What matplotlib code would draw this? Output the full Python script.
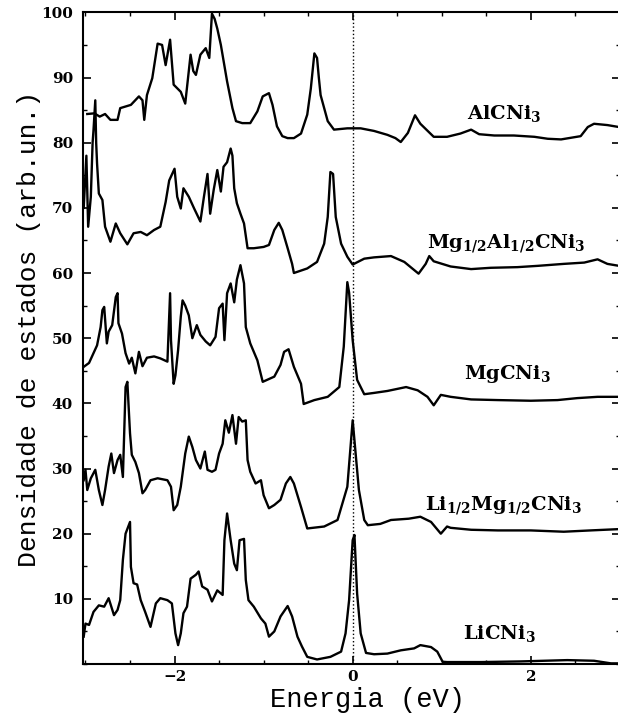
import numpy as np
import matplotlib
matplotlib.use("Agg")
from matplotlib import pyplot as plt
from matplotlib.ticker import MultipleLocator, FixedLocator

# Density of states curves, each curve given as (energy [eV], DOS) points
al_E = [-2.98, -2.90, -2.84, -2.78, -2.72, -2.64, -2.61, -2.49, -2.40, -2.36, -2.34, -2.31, -2.25,
        -2.19, -2.14, -2.10, -2.05, -2.01, -1.93, -1.88, -1.82, -1.79, -1.76, -1.71, -1.65, -1.61,
        -1.58, -1.55, -1.52, -1.48, -1.41, -1.35, -1.31, -1.24, -1.15, -1.07, -1.01, -0.94, -0.90,
        -0.85, -0.79, -0.73, -0.66, -0.58, -0.51, -0.47, -0.43, -0.40, -0.38, -0.36, -0.28, -0.21,
        -0.06, 0.09, 0.24, 0.39, 0.48, 0.54, 0.62, 0.70, 0.76, 0.91, 1.06, 1.21, 1.33, 1.42, 1.59,
        1.81, 2.04, 2.19, 2.34, 2.56, 2.64, 2.71, 2.86, 2.99]
al_D = [84.4, 84.5, 84.0, 84.4, 83.5, 83.5, 85.3, 85.8, 87.1, 86.5, 83.5, 87.3, 89.9,
        95.2, 95.0, 91.9, 95.8, 88.9, 87.8, 86.0, 93.5, 91.0, 90.4, 93.5, 94.5, 93.0,
        99.8, 99.0, 97.5, 95.0, 89.4, 85.3, 83.3, 83.0, 83.0, 84.8, 87.1, 87.6, 85.8,
        82.5, 81.0, 80.7, 80.7, 81.4, 84.3, 88.3, 93.7, 93.0, 90.0, 87.3, 83.3, 82.0,
        82.2, 82.2, 81.8, 81.2, 80.7, 80.1, 81.5, 84.2, 82.9, 80.9, 80.9, 81.4, 82.0, 81.3, 81.1,
        81.1, 80.9, 80.6, 80.5, 81.0, 82.4, 82.9, 82.7, 82.4]

mgal_E = [-3.02, -2.99, -2.97, -2.94, -2.92, -2.91, -2.89, -2.88, -2.87, -2.85, -2.81, -2.78,
          -2.72, -2.66, -2.61, -2.53, -2.46, -2.38, -2.31, -2.23, -2.16, -2.10, -2.06, -2.00,
          -1.97, -1.93, -1.90, -1.84, -1.78, -1.71, -1.67, -1.63, -1.60, -1.56, -1.52, -1.48,
          -1.45, -1.41, -1.37, -1.35, -1.33, -1.30, -1.26, -1.22, -1.18, -1.11, -1.00, -0.94,
          -0.88, -0.83, -0.79, -0.73, -0.68, -0.66, -0.51, -0.40, -0.32, -0.28, -0.25, -0.22,
          -0.19, -0.13, -0.06, 0.00, 0.13, 0.24, 0.43, 0.58, 0.74, 0.82, 0.86, 0.91, 1.10, 1.33,
          1.55, 1.85, 2.08, 2.37, 2.60, 2.75, 2.86, 2.99]
mgal_D = [70.0, 78.0, 67.1, 71.7, 80.0, 81.9, 86.5, 80.0, 76.8, 72.2, 71.2, 67.1,
          64.8, 67.6, 66.1, 64.4, 66.1, 66.3, 65.8, 66.6, 67.1, 70.9, 74.2, 76.0,
          71.7, 69.9, 73.0, 71.7, 69.9, 67.9, 71.7, 75.2, 69.1, 72.8, 75.8, 72.5,
          76.3, 77.0, 79.1, 78.0, 73.0, 70.7, 69.1, 67.6, 63.8, 63.8, 64.0, 64.3,
          66.6, 67.7, 66.6, 63.8, 61.4, 60.0, 60.7, 61.7, 64.5, 68.6, 75.5, 75.2,
          68.6, 64.5, 62.5, 61.3, 62.2, 62.4, 62.6, 61.7, 59.9, 61.4, 62.6, 61.8, 61.0, 60.6,
          60.8, 60.9, 61.1, 61.4, 61.6, 62.1, 61.4, 61.1]

mg_E = [-3.02, -2.96, -2.91, -2.87, -2.83, -2.81, -2.79, -2.76, -2.74, -2.70, -2.66, -2.64,
        -2.63, -2.59, -2.55, -2.51, -2.48, -2.44, -2.40, -2.36, -2.31, -2.23, -2.16, -2.08,
        -2.05, -2.04, -2.01, -1.99, -1.96, -1.93, -1.91, -1.88, -1.84, -1.80, -1.75, -1.71,
        -1.65, -1.60, -1.54, -1.50, -1.46, -1.44, -1.41, -1.37, -1.33, -1.30, -1.26, -1.22,
        -1.20, -1.15, -1.07, -1.01, -0.88, -0.81, -0.77, -0.72, -0.66, -0.58, -0.55, -0.43,
        -0.28, -0.15, -0.10, -0.06, -0.04, 0.00, 0.05, 0.13, 0.24, 0.39, 0.60, 0.73, 0.84,
        0.91, 0.99, 1.10, 1.33, 1.63, 2.00, 2.30, 2.52, 2.75, 2.99]
mg_D = [45.6, 46.2, 47.7, 48.9, 51.7, 54.3, 54.8, 49.2, 51.0, 52.0, 56.3, 56.9,
        52.3, 50.7, 47.7, 46.1, 47.0, 44.6, 47.9, 45.7, 47.0, 47.2, 46.9, 46.4,
        56.9, 49.7, 43.0, 44.3, 48.2, 53.3, 55.8, 55.0, 53.5, 50.0, 52.0, 50.5,
        49.5, 48.9, 50.2, 54.6, 55.3, 49.7, 56.9, 58.4, 55.5, 59.0, 61.2, 58.4,
        51.7, 49.2, 46.6, 43.3, 44.1, 45.9, 47.9, 48.3, 45.6, 43.0, 39.9, 40.5,
        41.0, 42.5, 48.7, 58.6, 57.0, 49.7, 43.6, 41.4, 41.6, 41.9, 42.5, 42.0, 41.0,
        39.7, 41.3, 41.0, 40.6, 40.5, 40.4, 40.5, 40.8, 41.0, 41.0]

limg_E = [-3.02, -3.00, -2.98, -2.94, -2.89, -2.85, -2.81, -2.78, -2.74, -2.71, -2.68, -2.64,
          -2.61, -2.58, -2.55, -2.53, -2.50, -2.48, -2.44, -2.40, -2.36, -2.33, -2.27, -2.19,
          -2.08, -2.04, -2.01, -1.97, -1.93, -1.88, -1.84, -1.80, -1.76, -1.71, -1.66, -1.63,
          -1.58, -1.54, -1.50, -1.46, -1.43, -1.39, -1.35, -1.31, -1.28, -1.24, -1.20, -1.18,
          -1.15, -1.09, -1.03, -1.00, -0.94, -0.88, -0.81, -0.75, -0.70, -0.66, -0.58, -0.51,
          -0.32, -0.17, -0.06, 0.00, 0.03, 0.07, 0.13, 0.17, 0.31, 0.43, 0.63, 0.76, 0.88, 0.99,
          1.06, 1.10, 1.33, 1.63, 2.00, 2.37, 2.67, 2.99]
limg_D = [28.2, 29.8, 26.7, 28.5, 29.8, 26.7, 24.4, 26.7, 30.3, 32.3, 29.3, 31.3,
          32.1, 28.7, 42.5, 43.3, 35.4, 32.1, 31.0, 29.3, 26.2, 26.7, 28.2, 28.5,
          28.2, 27.2, 23.6, 24.4, 27.2, 32.3, 34.9, 33.3, 31.3, 30.0, 32.6, 29.8,
          29.5, 29.8, 32.3, 33.8, 37.4, 35.5, 38.2, 33.8, 37.9, 37.2, 37.4, 31.3,
          29.5, 27.7, 28.2, 25.9, 23.9, 24.4, 25.2, 27.7, 28.7, 27.7, 24.1, 20.8,
          21.1, 22.1, 27.2, 37.4, 32.8, 26.7, 22.1, 21.3, 21.5, 22.1, 22.3, 22.6, 21.8, 20.0,
          21.1, 20.9, 20.6, 20.5, 20.5, 20.3, 20.5, 20.7]

li_E = [-3.02, -3.00, -2.96, -2.91, -2.85, -2.79, -2.74, -2.68, -2.64, -2.61, -2.58, -2.55,
        -2.50, -2.49, -2.46, -2.42, -2.38, -2.33, -2.27, -2.21, -2.16, -2.08, -2.03, -1.99,
        -1.96, -1.93, -1.90, -1.86, -1.82, -1.76, -1.73, -1.69, -1.63, -1.58, -1.52, -1.46,
        -1.44, -1.41, -1.37, -1.33, -1.30, -1.27, -1.22, -1.20, -1.17, -1.11, -1.03, -0.98,
        -0.94, -0.88, -0.81, -0.73, -0.68, -0.62, -0.57, -0.51, -0.40, -0.25, -0.13, -0.08,
        -0.04, 0.00, 0.02, 0.05, 0.09, 0.15, 0.24, 0.39, 0.54, 0.69, 0.76, 0.88, 0.95, 1.01,
        1.06, 1.44, 1.89, 2.41, 2.71, 2.90, 2.99]
li_D = [4.2, 6.2, 6.0, 8.0, 9.0, 8.8, 10.1, 7.5, 8.3, 9.8, 16.0, 20.0,
        21.8, 14.9, 12.4, 12.2, 9.8, 8.0, 5.7, 9.3, 10.1, 9.8, 9.3, 4.7,
        2.9, 4.7, 7.8, 8.8, 13.1, 13.7, 14.2, 11.9, 11.4, 9.6, 11.3, 10.6,
        19.0, 23.1, 19.0, 15.4, 14.4, 19.0, 19.2, 12.9, 9.8, 8.8, 7.0, 6.2,
        4.2, 5.0, 7.3, 8.9, 7.3, 4.2, 2.7, 1.1, 0.7, 1.1, 1.9, 4.7,
        9.8, 19.0, 19.8, 10.8, 4.7, 1.7, 1.5, 1.6, 2.1, 2.4, 2.9, 2.6, 1.9, 0.35,
        0.3, 0.3, 0.4, 0.6, 0.5, 0.1, 0.1]

curves = [(al_E, al_D), (mgal_E, mgal_D), (mg_E, mg_D), (limg_E, limg_D), (li_E, li_D)]

names = [r"AlCNi$_3$", r"Mg$_{1/2}$Al$_{1/2}$CNi$_3$", r"MgCNi$_3$",
         r"Li$_{1/2}$Mg$_{1/2}$CNi$_3$", r"LiCNi$_3$"]
name_pos = [(1.70, 84.4), (1.72, 64.5), (1.74, 44.5), (1.69, 24.3), (1.65, 4.7)]

plt.rcParams["mathtext.fontset"] = "custom"
plt.rcParams["mathtext.rm"] = "DejaVu Serif:bold"
plt.rcParams["mathtext.default"] = "rm"

fig = plt.figure(figsize=(6.18, 7.13), dpi=100)
ax = fig.add_axes([0.134, 0.0687, 0.869, 0.914])

for E, D in curves:
    ax.plot(E, D, c="black", lw=1.7)

ax.axvline(0, c="black", ls=":", lw=1.0)

for name, (x, y) in zip(names, name_pos):
    ax.text(x, y, name, ha="center", va="center", fontsize=14,
            family="DejaVu Serif", weight="bold")

ax.set_xlim(-3.03, 3.0)
ax.set_ylim(0, 100)
ax.xaxis.set_major_locator(FixedLocator([-2, 0, 2]))
ax.xaxis.set_minor_locator(MultipleLocator(0.5))
ax.yaxis.set_major_locator(FixedLocator(np.arange(10, 101, 10)))
ax.yaxis.set_minor_locator(MultipleLocator(5))
ax.tick_params(which="both", direction="in", top=True, right=True)
ax.tick_params(which="major", length=6, width=1.2, pad=7)
ax.tick_params(axis="x", which="major", pad=4)
ax.tick_params(which="minor", length=3, width=1.0)
for lab in ax.get_xticklabels() + ax.get_yticklabels():
    lab.set_family("DejaVu Serif")
    lab.set_weight("bold")
    lab.set_fontsize(11)
for s in ax.spines.values():
    s.set_linewidth(1.5)

ax.set_xlabel("Energia (eV)", family="Liberation Mono", fontsize=19.5, va="baseline")
ax.set_ylabel("Densidade de estados (arb.un.)", family="Liberation Mono", fontsize=19)
ax.xaxis.set_label_coords(0.531, -0.066)
ax.yaxis.set_label_coords(-0.078, 0.515)

plt.savefig("out.png", dpi=100)
